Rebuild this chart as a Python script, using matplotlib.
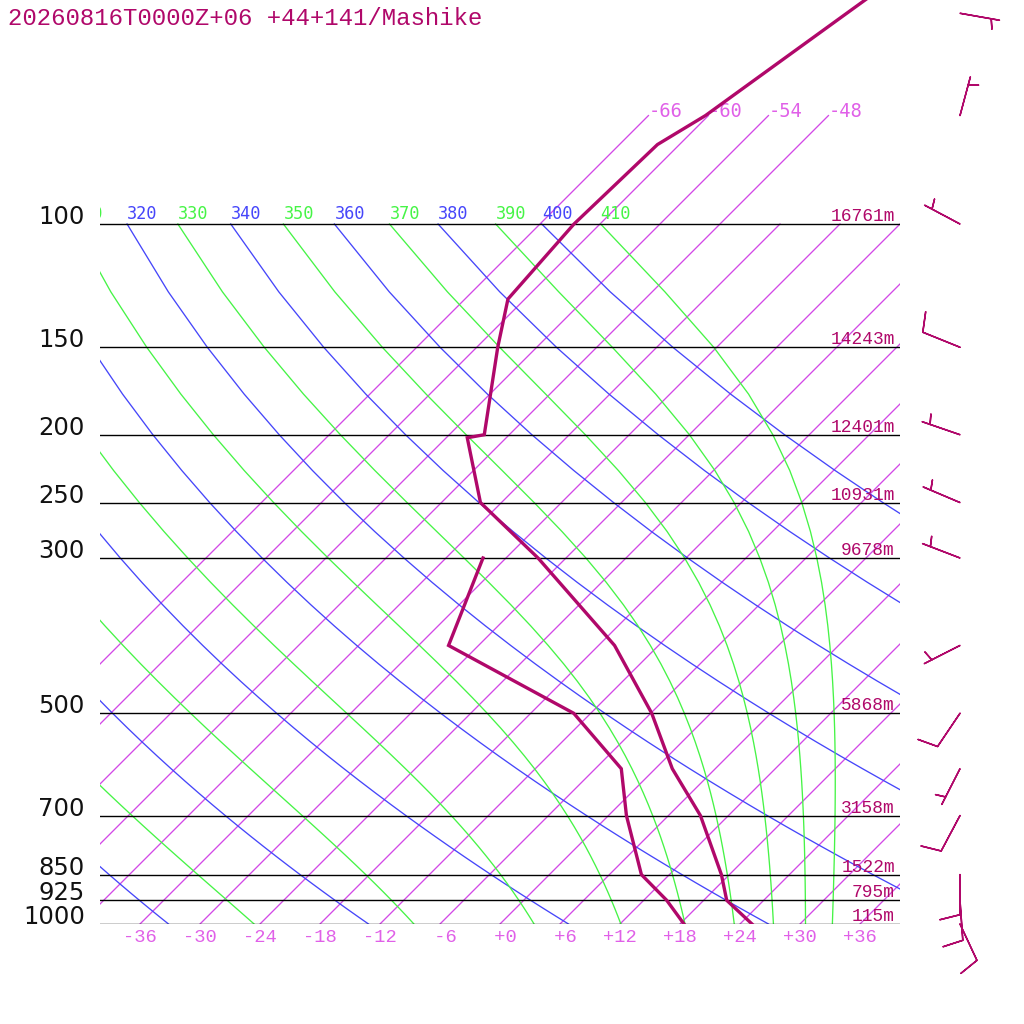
import numpy as np
import matplotlib
matplotlib.use("Agg")
import matplotlib.pyplot as plt
import matplotlib.transforms as mtransforms

# 温度廓线 (hPa, °C)
p_temp = [1000, 925, 850, 700, 600, 500, 400, 300, 250, 202, 200, 150, 128, 100, 77, 70, 50, 40]
t_temp = [25.2, 20.3, 17.2, 9.2, 1.7, -5.9, -16.4, -32.8, -44.1, -51.9, -50.5, -57.9, -61.7,
          -62.6, -62.2, -60.3, -56.4, -53.8]
# 露点廓线
p_dew = [1000, 925, 850, 700, 600, 500, 400, 300]
td_dew = [18.4, 14.3, 9.2, 1.8, -3.4, -13.7, -33.0, -38.3]

# 风 (风向 deg, 风速 kt)
p_wind = [1000, 925, 850, 700, 600, 500, 400, 300, 250, 200, 150, 100, 70, 50]
wdir = [155, 176, 180, 208, 207, 214, 243, 291, 293, 289, 292, 298, 15, 100]
wspd = [10, 10, 10, 10, 5, 10, 5, 5, 5, 5, 10, 5, 5, 5]

# 等压面及位势高度
p_lines = [1000, 925, 850, 700, 500, 300, 250, 200, 150, 100]
hgt = [115, 795, 1522, 3158, 5868, 9678, 10931, 12401, 14243, 16761]

# 背景线
isotherms = list(range(-66, 37, 6))
iso_top_labels = [-66, -60, -54, -48]
theta_dry = list(range(240, 401, 20))
theta_moist = list(range(250, 411, 20))
bottom_labels = list(range(-36, 37, 6))

title = "20260816T0000Z+06 +44+141/Mashike"

# 常数与配色
SKEW = 70.0
P_TOP = 1000 / 10 ** (924 / 700)
RD, CPD, LV, EPS = 287.04, 1005.7, 2.501e6, 0.622
KAPPA = RD / CPD
c_prof = "#b0086a"
c_iso = "#d24ae6"
c_iso_txt = "#e060e8"
c_dry = "#4646fa"
c_moist = "#46f446"


def skx(t, p):
    return np.asarray(t) + SKEW * np.log10(1000.0 / np.asarray(p, dtype=float))


def sat_vp(tc):
    return 6.112 * np.exp(17.67 * tc / (tc + 243.5))


def sat_mr(tc, p):
    es = sat_vp(tc)
    return EPS * es / (p - es)


def theta_e(tc, p):
    tk = tc + 273.15
    r = sat_mr(tc, p)
    return tk * (1000 / p) ** (0.2854 * (1 - 0.28 * r)) * np.exp(
        (3.376 / tk - 0.00254) * r * 1000 * (1 + 0.81 * r))


def dtdp(tk, p):
    rs = sat_mr(tk - 273.15, p)
    return (RD * tk + LV * rs) / p / (CPD + LV ** 2 * rs * EPS / (RD * tk ** 2))


def moist_adiabat(the, p_out):
    # 先由 theta_e 反求 1000hPa 温度，再 RK4 积分
    lo, hi = -70.0, 50.0
    for _ in range(60):
        mid = 0.5 * (lo + hi)
        if theta_e(mid, 1000.0) > the:
            hi = mid
        else:
            lo = mid
    tk = 0.5 * (lo + hi) + 273.15
    p = 1000.0
    out = [tk]
    h = -1.0
    for target in p_out[1:]:
        while p > target + 1e-6:
            k1 = dtdp(tk, p)
            k2 = dtdp(tk + 0.5 * h * k1, p + 0.5 * h)
            k3 = dtdp(tk + 0.5 * h * k2, p + 0.5 * h)
            k4 = dtdp(tk + h * k3, p + h)
            tk += h * (k1 + 2 * k2 + 2 * k3 + k4) / 6
            p += h
        out.append(tk)
    return np.array(out) - 273.15


fig = plt.figure(figsize=(10.24, 10.24), dpi=100)
ax = fig.add_axes([100 / 1024, 100 / 1024, 800 / 1024, 924 / 1024])
ax.set_yscale("log")
ax.set_xlim(-40, 40)
ax.set_ylim(1000, P_TOP)
ax.axis("off")

p_grid = np.arange(1000, 99, -25, dtype=float)
lab_up = mtransforms.offset_copy(ax.transData, fig, y=5, units="dots")

# 等温线
for t in isotherms:
    ptop = 70 if t in iso_top_labels else 100
    pp = np.array([1000.0, ptop])
    ax.plot(skx([t, t], pp), pp, color=c_iso, lw=0.95, zorder=1)
    if t in iso_top_labels:
        ax.text(skx(t, 70), 70, f"{t:d}", color=c_iso_txt,
                fontsize=13.5, family="DejaVu Sans Mono", ha="left", va="baseline",
                transform=mtransforms.offset_copy(ax.transData, fig, y=-1, units="dots"))

# 干绝热线
for th in theta_dry:
    tt = th * (p_grid / 1000.0) ** KAPPA - 273.15
    ax.plot(skx(tt, p_grid), p_grid, color=c_dry, lw=0.95, zorder=2)
    if skx(tt[-1], 100) > -45:
        ax.text(skx(tt[-1], 100), 100, str(th), color=c_dry, fontsize=12.2,
                family="DejaVu Sans Mono", ha="left", va="baseline", clip_on=True,
                transform=lab_up)

# 湿绝热线
for th in theta_moist:
    tt = moist_adiabat(th, p_grid)
    ax.plot(skx(tt, p_grid), p_grid, color=c_moist, lw=0.95, zorder=2)
    if skx(tt[-1], 100) > -45:
        ax.text(skx(tt[-1], 100), 100, str(th), color=c_moist, fontsize=12.2,
                family="DejaVu Sans Mono", ha="left", va="baseline", clip_on=True,
                transform=lab_up)

# 等压线与标注
for p, z in zip(p_lines, hgt):
    ax.plot([-40, 40], [p, p], color="black", lw=1.0, zorder=3)
    ax.text(-41.5, p, str(p), color="#111111", fontsize=17.5, family="DejaVu Sans",
            ha="right", va="baseline")
    ax.text(39.5, p, f"{z}m", color=c_prof, fontsize=12.9, family="Liberation Mono",
            ha="right", va="baseline",
            transform=mtransforms.offset_copy(ax.transData, fig, y=3, units="dots"))

for t in bottom_labels:
    ax.text(t, 1000, f"{t:+d}".rjust(3), color=c_iso_txt, fontsize=13.5,
            family="Liberation Mono", ha="center", va="center",
            transform=mtransforms.offset_copy(ax.transData, fig, y=-14, units="dots"))

# 温度、露点
ax.plot(skx(t_temp, p_temp), p_temp, color=c_prof, lw=2.4, zorder=5,
        solid_joinstyle="miter")
ax.plot(skx(td_dew, p_dew), p_dew, color=c_prof, lw=2.4, zorder=5,
        solid_joinstyle="miter")

# 风羽
wd = np.deg2rad(wdir)
u = -np.array(wspd) * np.sin(wd)
v = -np.array(wspd) * np.cos(wd)
ax.barbs(np.full(len(p_wind), 46.0), p_wind, u, v, length=7.6, pivot="tip",
         color=c_prof, linewidth=1.1, clip_on=False, zorder=6,
         sizes=dict(height=0.5, spacing=0.14))

fig.text(8 / 1024, 1 - 25 / 1024, title, color=c_prof, fontsize=17.3,
         family="Liberation Mono", ha="left", va="baseline")

fig.savefig("out.png", dpi=100)
